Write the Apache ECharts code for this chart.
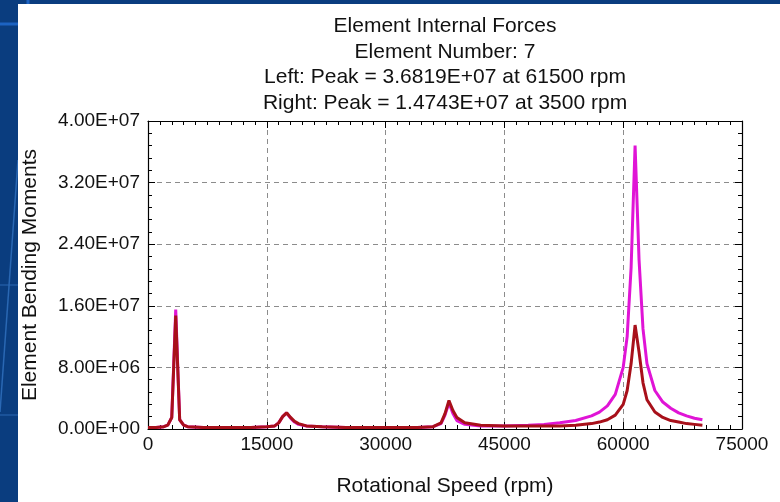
<!DOCTYPE html>
<html>
<head>
<meta charset="utf-8">
<title>Element Internal Forces</title>
<script src="https://cdn.jsdelivr.net/npm/echarts@6/dist/echarts.min.js"></script>
<style>
  html, body { margin: 0; padding: 0; background: #0a3d7f; }
  #stage { position: relative; width: 780px; height: 502px; overflow: hidden; }
  #sheet { position: absolute; left: 18px; top: 4px; width: 762px; height: 498px; background: #fff; }
  #deco { position: absolute; left: 0; top: 0; }
  #chart { position: absolute; left: 0; top: 0; width: 780px; height: 502px; }
</style>
</head>
<body>
<div id="stage">
  <svg id="deco" width="780" height="502">
    <line x1="0" y1="24" x2="18" y2="24" stroke="#1c63c2" stroke-width="3"/>
    <line x1="28" y1="0" x2="28" y2="4" stroke="#1c63c2" stroke-width="3"/>
    <line x1="18" y1="160" x2="0" y2="412" stroke="#2a68b4" stroke-width="1.5"/>
    <line x1="0" y1="285" x2="18" y2="285" stroke="#2a68b4" stroke-width="1"/>
    <line x1="0" y1="415" x2="18" y2="415" stroke="#2a68b4" stroke-width="1"/>
  </svg>
  <div id="sheet"></div>
  <div id="chart"></div>
</div>
<script>
// rotational speed samples (rpm)
const rpm = [0, 1000, 2000, 2500, 3000, 3500, 4000, 4500, 5000, 7000, 10000, 13000, 15000,
  16000, 16500, 17000, 17500, 18000, 18500, 19000, 20000, 22000, 25000, 30000, 34000,
  36000, 37000, 37500, 38000, 38500, 39000, 40000, 42000, 45000, 48000, 50000, 52000,
  54000, 56000, 57000, 58000, 59000, 60000, 60500, 61000, 61500, 62000, 62500, 63000,
  64000, 65000, 66000, 67000, 68000, 69000, 70000]

// bending moment, left end of element
const leftMoment = [2e5, 2e5, 3e5, 5e5, 1.5e6, 1.55e7, 1.2e6, 5e5, 3e5, 2e5, 2e5, 2e5, 3e5,
  4e5, 8e5, 1.6e6, 2.1e6, 1.4e6, 9e5, 6e5, 4e5, 3e5, 2e5, 2e5, 2e5,
  3e5, 7e5, 1.8e6, 3.4e6, 2.0e6, 1.1e6, 6e5, 4e5, 4e5, 5e5, 6e5, 8e5,
  1.1e6, 1.7e6, 2.2e6, 3.0e6, 4.5e6, 8e6, 1.2e7, 2.1e7, 3.6819e7, 2.2e7, 1.3e7, 8.5e6,
  5e6, 3.5e6, 2.7e6, 2.1e6, 1.7e6, 1.4e6, 1.2e6]

// bending moment, right end of element
const rightMoment = [2e5, 2e5, 3e5, 5e5, 1.5e6, 1.4743e7, 1.2e6, 5e5, 3e5, 2e5, 2e5, 2e5, 3e5,
  4e5, 8e5, 1.6e6, 2.1e6, 1.5e6, 1.0e6, 7e5, 4e5, 3e5, 2e5, 2e5, 2e5,
  3e5, 8e5, 2.0e6, 3.7e6, 2.4e6, 1.5e6, 8e5, 5e5, 4e5, 4e5, 4e5, 4e5,
  5e5, 7e5, 9e5, 1.2e6, 1.8e6, 3.2e6, 5e6, 8.5e6, 1.35e7, 1.0e7, 6e6, 3.8e6,
  2.2e6, 1.5e6, 1.1e6, 9e5, 7e5, 6e5, 5e5]

const titleLines = [
  'Element Internal Forces',
  'Element Number: 7',
  'Left: Peak = 3.6819E+07 at 61500 rpm',
  'Right: Peak = 1.4743E+07 at 3500 rpm'
]

const FONT = "'Liberation Sans', Arial, sans-serif"

const sci = v => {
  if (v === 0) return '0.00E+00'
  const e = Math.floor(Math.log10(v) + 1e-9)
  const m = v / Math.pow(10, e)
  return m.toFixed(2) + 'E+' + String(e).padStart(2, '0')
}

const chart = echarts.init(document.getElementById('chart'))

const tickStyle = { show: true, inside: true, length: 7, lineStyle: { color: '#000', width: 1 } }
const minorX = { show: true, splitNumber: 10, length: 4, lineStyle: { color: '#000', width: 1 } }
const minorY = { show: true, splitNumber: 5, length: 4, lineStyle: { color: '#000', width: 1 } }
const dashed = { show: true, lineStyle: { color: '#8c8c8c', type: [5, 4], width: 1 } }
const axisLine = { show: true, onZero: false, lineStyle: { color: '#000', width: 1.2 } }

const option = {
  backgroundColor: 'transparent',
  animation: false,
  title: titleLines.map((t, i) => ({
    text: t,
    left: 445,
    top: 16 + i * 25.5,
    textAlign: 'center',
    padding: 0,
    textStyle: { fontFamily: FONT, fontSize: 21, fontWeight: 'normal', color: '#111' }
  })),
  grid: { left: 148, right: 38, top: 121, bottom: 70 },
  xAxis: [{
    type: 'value',
    min: 0, max: 75000, interval: 15000,
    name: 'Rotational Speed (rpm)',
    nameLocation: 'middle',
    nameGap: 47,
    nameTextStyle: { fontFamily: FONT, fontSize: 21, color: '#111' },
    axisLine,
    axisTick: tickStyle,
    minorTick: minorX,
    splitLine: dashed,
    axisLabel: { fontFamily: FONT, fontSize: 19, color: '#111', margin: 6, formatter: v => String(v) }
  }, {
    type: 'value', position: 'top',
    min: 0, max: 75000, interval: 15000,
    axisLine, axisTick: tickStyle, minorTick: minorX,
    splitLine: { show: false }, axisLabel: { show: false }
  }],
  yAxis: [{
    type: 'value',
    min: 0, max: 4e7, interval: 8e6,
    name: 'Element Bending Moments',
    nameLocation: 'middle',
    nameGap: 107,
    nameTextStyle: { fontFamily: FONT, fontSize: 21, color: '#111' },
    axisLine,
    axisTick: tickStyle,
    minorTick: minorY,
    splitLine: dashed,
    axisLabel: { fontFamily: FONT, fontSize: 19, color: '#111', margin: 8, formatter: sci }
  }, {
    type: 'value', position: 'right',
    min: 0, max: 4e7, interval: 8e6,
    axisLine, axisTick: tickStyle, minorTick: minorY,
    splitLine: { show: false }, axisLabel: { show: false }
  }],
  series: [{
    name: 'Left',
    type: 'line',
    data: rpm.map((x, i) => [x, leftMoment[i]]),
    showSymbol: false,
    lineStyle: { color: '#e014d6', width: 3 },
    itemStyle: { color: '#e014d6' }
  }, {
    name: 'Right',
    type: 'line',
    data: rpm.map((x, i) => [x, rightMoment[i]]),
    showSymbol: false,
    lineStyle: { color: '#a8101a', width: 3 },
    itemStyle: { color: '#a8101a' }
  }]
}

chart.setOption(option)
window.addEventListener('resize', () => chart.resize())
</script>
</body>
</html>
